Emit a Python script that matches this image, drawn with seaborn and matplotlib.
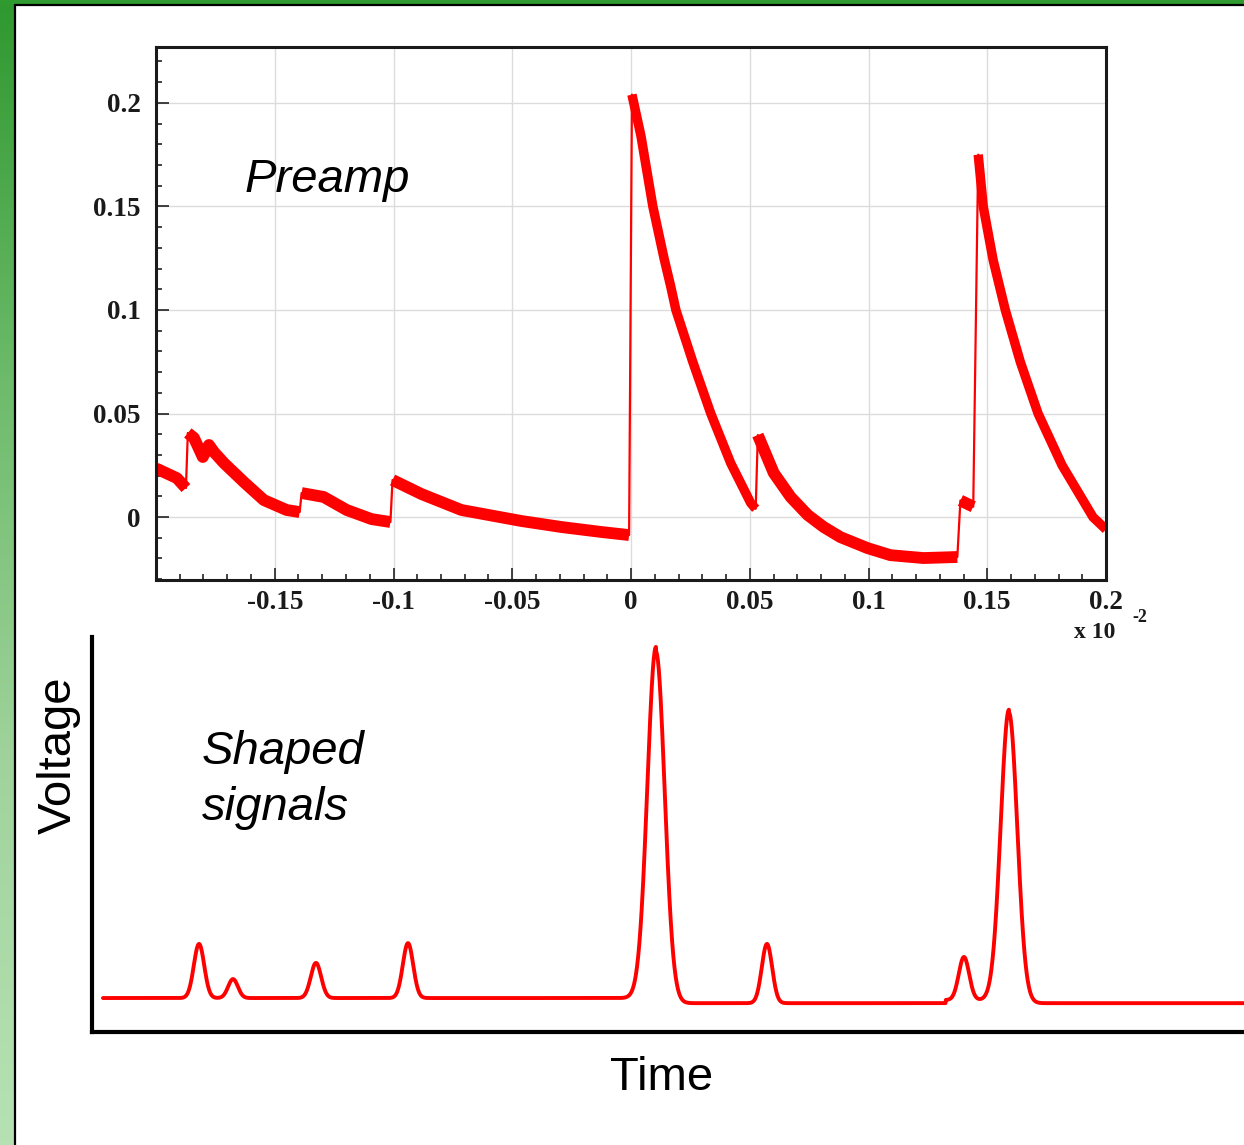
import matplotlib
matplotlib.use("Agg")
import matplotlib.pyplot as plt
from matplotlib.colors import LinearSegmentedColormap
from matplotlib.lines import Line2D
from matplotlib.patches import Rectangle
from matplotlib.ticker import MultipleLocator
import numpy as np
import pandas as pd
import seaborn as sea

# preamp trace, split at the steps (time in 1e-2 units)
seg_a_t = [-0.2000, -0.1912, -0.1874]
seg_a_v = [0.0235, 0.0188, 0.0140]
seg_b_t = [-0.1866, -0.1840, -0.1803, -0.1777, -0.1756, -0.1714, -0.1630, -0.1546, -0.1450, -0.1395]
seg_b_v = [0.0406, 0.0382, 0.0290, 0.0348, 0.0314, 0.0261, 0.0169, 0.0082, 0.0034, 0.0024]
seg_c_t = [-0.1387, -0.1294, -0.1197, -0.1092, -0.1013]
seg_c_v = [0.0116, 0.0097, 0.0034, -0.0010, -0.0024]
seg_d_t = [-0.1004, -0.0882, -0.0714, -0.0462, -0.0294, -0.0126, -0.0008]
seg_d_v = [0.0179, 0.0111, 0.0034, -0.0019, -0.0048, -0.0072, -0.0087]
seg_e_t = [0.0004, 0.0042, 0.0092, 0.0139, 0.0168, 0.0189, 0.0260, 0.0336, 0.0420, 0.0504, 0.0525]
seg_e_v = [0.2040, 0.1840, 0.1500, 0.1250, 0.1110, 0.1000, 0.0750, 0.0500, 0.0260, 0.0068, 0.0040]
seg_f_t = [0.0534, 0.0601, 0.0672, 0.0744, 0.0811, 0.0882, 0.0996, 0.1092, 0.1231, 0.1374]
seg_f_v = [0.0396, 0.0213, 0.0097, 0.0010, -0.0048, -0.0097, -0.0150, -0.0184, -0.0198, -0.0193]
seg_g_t = [0.1387, 0.1441]
seg_g_v = [0.0080, 0.0050]
seg_h_t = [0.1462, 0.1483, 0.1525, 0.1576, 0.1639, 0.1714, 0.1815, 0.1945, 0.2000]
seg_h_v = [0.1750, 0.1500, 0.1240, 0.1000, 0.0750, 0.0500, 0.0250, 0.0000, -0.0060]

x_ticks = [-0.15, -0.1, -0.05, 0, 0.05, 0.1, 0.15, 0.2]
x_labels = ["-0.15", "-0.1", "-0.05", "0", "0.05", "0.1", "0.15", "0.2"]
y_ticks = [0, 0.05, 0.1, 0.15, 0.2]
y_labels = ["0", "0.05", "0.1", "0.15", "0.2"]

# shaped signals (arbitrary time 0..100, voltage 0..1)
pulse_time = [9.29, 12.24, 19.44, 27.43, 48.96, 58.59, 75.69, 79.60]
pulse_height = [0.137, 0.048, 0.089, 0.139, 0.889, 0.150, 0.109, 0.735]
pulse_width = [0.45, 0.42, 0.45, 0.45, 0.75, 0.45, 0.45, 0.72]
base_edges = [0.95, 48.96, 74.10, 79.60, 100.0]
base_levels = [0.086, 0.073, 0.081, 0.073]

sea.set_theme(style="white")
plt.rcParams["font.family"] = ["Liberation Sans", "DejaVu Sans"]

W, H = 1244, 1145
fig = plt.figure(figsize=(W / 100, H / 100), dpi=100)

# green slide frame
green = LinearSegmentedColormap.from_list("g", ["#2f982f", "#6dbb6b", "#a0d39c", "#b6e2b3"])
side = fig.add_axes([0, 0, 13.5 / W, 1])
side.imshow(np.linspace(0, 1, 256).reshape(-1, 1), cmap=green, aspect="auto")
side.axis("off")
fig.add_artist(Rectangle((0, 1 - 3.5 / H), 1, 3.5 / H, color="#2f9a2f",
                         transform=fig.transFigure))
fig.add_artist(Line2D([14.5 / W, 14.5 / W], [0, 1 - 4.5 / H], color="black", lw=1.6))
fig.add_artist(Line2D([14.5 / W, 1], [1 - 4.5 / H, 1 - 4.5 / H], color="black", lw=1.6))

# --- preamp panel
ax1 = fig.add_axes([156 / W, 1 - 580 / H, 950 / W, 533 / H])
segs = [(seg_a_t, seg_a_v), (seg_b_t, seg_b_v), (seg_c_t, seg_c_v), (seg_d_t, seg_d_v),
        (seg_e_t, seg_e_v), (seg_f_t, seg_f_v), (seg_g_t, seg_g_v), (seg_h_t, seg_h_v)]
steep = [False, False, False, False, True, False, False, True]
all_t = np.concatenate([s[0] for s in segs])
all_v = np.concatenate([s[1] for s in segs])
sea.lineplot(x=all_t, y=all_v, ax=ax1, color="#ff0000", lw=1.6, sort=False, estimator=None)
for (st, sv), is_steep in zip(segs, steep):
    sea.lineplot(x=st, y=sv, ax=ax1, color="#ff0000", lw=6.8 if is_steep else 8.5,
                 sort=False, estimator=None, solid_capstyle="butt", solid_joinstyle="round")

ax1.set_xlim(-0.2, 0.2)
ax1.set_ylim(-0.0304, 0.227)
ax1.set_xticks(x_ticks)
ax1.set_xticklabels(x_labels)
ax1.set_yticks(y_ticks)
ax1.set_yticklabels(y_labels)
ax1.xaxis.set_minor_locator(MultipleLocator(0.01))
ax1.yaxis.set_minor_locator(MultipleLocator(0.01))
ax1.grid(True, which="major", color="#dcdcdc", lw=1.0)
ax1.set_axisbelow(True)
ax1.tick_params(which="both", direction="in", color="#222222", width=1.2,
                left=True, bottom=True, top=False, right=False)
ax1.tick_params(which="major", length=9, labelsize=19.5)
ax1.tick_params(which="minor", length=4.5)
ax1.tick_params(axis="y", pad=11)
ax1.tick_params(axis="x", pad=7)
for lab in ax1.get_xticklabels() + ax1.get_yticklabels():
    lab.set_family("Liberation Serif")
    lab.set_fontweight("bold")
    lab.set_color("#1a1a1a")
for sp in ax1.spines.values():
    sp.set_color("#1a1a1a")
    sp.set_linewidth(2.2)
ax1.set(xlabel="", ylabel="")
ax1.text(245 / W, 1 - 180 / H, "Preamp", transform=fig.transFigure, fontsize=34,
         style="italic", va="center", ha="left", color="black")
fig.text(1074 / W, 1 - 633 / H, "x 10", family="Liberation Serif", weight="bold",
         fontsize=17, va="center", ha="left", color="#1a1a1a")
fig.text(1132 / W, 1 - 618 / H, "-2", family="Liberation Serif", weight="bold",
         fontsize=13, va="center", ha="left", color="#1a1a1a")

# --- shaped panel
ax2 = fig.add_axes([92 / W, 1 - 1032 / H, 1 - 92 / W, 395 / H])
tt = np.linspace(base_edges[0], base_edges[-1], 4000)
sig = np.array(base_levels)[np.clip(np.searchsorted(base_edges, tt, side="right") - 1, 0, 3)]
for c, h, w in zip(pulse_time, pulse_height, pulse_width):
    sig = sig + h * np.exp(-0.5 * ((tt - c) / w) ** 2)
shaped = pd.DataFrame({"time": tt, "voltage": sig})
sea.lineplot(data=shaped, x="time", y="voltage", ax=ax2, color="#ff0000", lw=2.8,
             estimator=None)
ax2.set_xlim(0, 100)
ax2.set_ylim(0, 1)
ax2.set_xticks([])
ax2.set_yticks([])
sea.despine(ax=ax2)
for sp in ("left", "bottom"):
    ax2.spines[sp].set_color("black")
    ax2.spines[sp].set_linewidth(3)
ax2.set_xlabel("Time", fontsize=34, color="black")
ax2.set_ylabel("Voltage", fontsize=34, color="black")
ax2.xaxis.set_label_coords(0.4948, -0.061)
ax2.yaxis.set_label_coords(-0.0094, 0.701)
ax2.text(202 / W, 1 - 780 / H, "Shaped\nsignals", transform=fig.transFigure,
         fontsize=34, style="italic", va="center", ha="left", linespacing=1.38,
         color="black")

fig.savefig("out.png", dpi=100)
